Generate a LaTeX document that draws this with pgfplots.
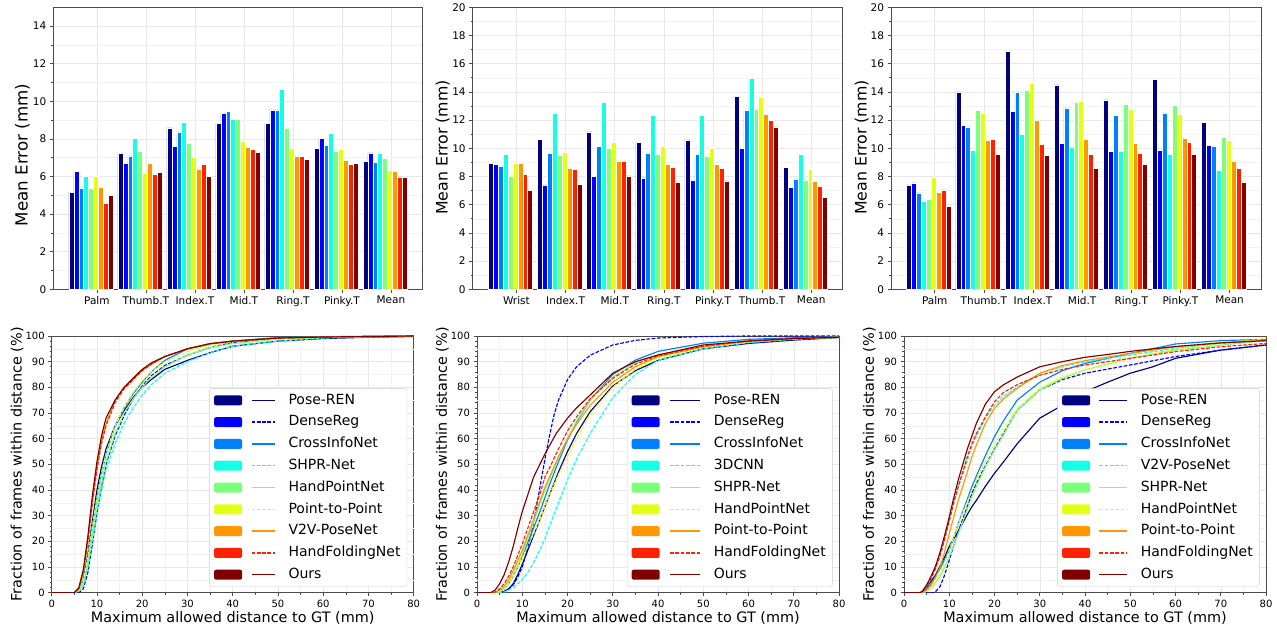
\documentclass[border=0pt]{standalone}
\usepackage{pgfplots}
\usepackage{pgfplotstable}
\usepackage{fontspec}
\setmainfont{DejaVu Sans}
\pgfplotsset{compat=1.18}
\definecolor{c0}{HTML}{000080}
\definecolor{c1}{HTML}{0000FF}
\definecolor{c2}{HTML}{0080FF}
\definecolor{c3}{HTML}{15FFE2}
\definecolor{c4}{HTML}{7CFF7A}
\definecolor{c5}{HTML}{E2FF15}
\definecolor{c6}{HTML}{FF9700}
\definecolor{c7}{HTML}{FF2100}
\definecolor{c8}{HTML}{800000}
\tikzset{dsh/.style={dash pattern=on 3.7pt off 1.6pt}}

\pgfplotstableread{
pos s0 s1 s2 s3 s4 s5 s6 s7 s8
0 5.15 6.28 5.39 6.01 5.36 6.01 5.41 4.57 5.00
1 7.23 6.70 7.10 8.01 7.32 6.19 6.70 6.11 6.23
2 8.59 7.62 8.37 8.87 7.75 7.02 6.39 6.64 6.01
3 8.84 9.37 9.48 9.07 9.03 7.87 7.57 7.45 7.28
4 8.84 9.55 9.55 10.65 8.59 7.50 7.07 7.07 6.93
5 7.50 8.03 7.66 8.30 7.32 7.46 6.84 6.64 6.70
6 6.80 7.26 6.75 7.23 6.96 6.35 6.28 5.96 5.96
}\tabA
\pgfplotstableread{
pos s0 s1 s2 s3 s4 s5 s6 s7 s8
0 8.91 8.84 8.74 9.55 8.00 8.91 8.93 8.16 7.00
1 10.64 7.40 9.62 12.45 9.50 9.74 8.57 8.48 7.45
2 11.17 8.00 10.14 13.26 10.00 10.40 9.07 9.07 8.05
3 10.43 7.90 9.62 12.36 9.55 10.14 8.86 8.64 7.62
4 10.60 7.71 9.57 12.36 9.45 10.00 8.86 8.57 7.69
5 13.67 10.02 12.71 14.95 12.79 13.62 12.43 11.98 11.52
6 8.64 7.24 7.83 9.57 7.76 8.50 7.67 7.33 6.52
}\tabB
\pgfplotstableread{
pos s0 s1 s2 s3 s4 s5 s6 s7 s8
0 7.40 7.55 6.83 6.21 6.40 7.93 6.90 7.05 5.90
1 14.00 11.64 11.52 9.86 12.71 12.52 10.57 10.64 9.57
2 16.88 12.62 14.00 11.00 14.10 14.64 12.00 10.29 9.50
3 14.50 10.36 12.86 10.10 13.26 13.36 10.64 9.55 8.57
4 13.43 9.79 12.36 9.79 13.14 12.74 10.36 9.62 8.86
5 14.90 9.83 12.52 9.55 13.07 12.43 10.71 10.40 9.55
6 11.83 10.21 10.12 8.43 10.79 10.57 9.07 8.60 7.62
}\tabC

\def\lgs{37.4pt}\def\lge{60.7pt}
\pgfplotsset{
  base/.style={scale only axis, axis line style={black!70, line width=0.6pt},
    tick style={black!70, line width=0.6pt}, tick align=outside, tick pos=left,
    major tick length=3.5pt, minor tick length=2pt,
    major grid style={black!9, line width=0.5pt}, minor grid style={black!5, line width=0.5pt},
    /pgf/number format/assume math mode=true, enlargelimits=false},
  bars/.style={base, grid=both, ybar=0pt, bar width=0.1, xmin=-0.77, xmax=6.76, ymin=0,
    xtick={0.12,1.12,2.12,3.12,4.12,5.12,6.12}, minor y tick num=1,
    height=282pt, tick label style={font=\fontsize{10.5}{12}\selectfont}},
  bb/.style={fill=#1, draw=white, line width=0.5pt},
  cdf/.style={base, xmajorgrids=true, xminorgrids=true, ymajorgrids=true, yminorgrids=false,
    xmin=0, xmax=80, ymin=0, ymax=100, xtick={0,10,...,80},
    ytick={0,10,...,100}, minor x tick num=1, minor y tick num=4,
    extra y ticks={5,15,25,35,45,55,65,75,85,95}, extra y tick labels={},
    extra y tick style={major tick length=0pt, major grid style={black!5, line width=0.5pt}},
    width=362pt, height=256.7pt, tick label style={font=\fontsize{10}{12}\selectfont},
    label style={font=\fontsize{14.4}{16}\selectfont},
    xlabel={Maximum allowed distance to GT (mm)},
    ylabel={Fraction of frames within distance (\%)},
    xlabel style={at={(axis description cs:0.5,-0.0993)}, anchor=center},
    ylabel style={at={(axis description cs:-0.0955,0.5)}, anchor=center},
    legend cell align=left,
    legend style={at={(1,0)}, anchor=south east, xshift=-6.5pt, yshift=6pt,
      draw=black!20, rounded corners=2pt, fill=white,
      font=\fontsize{14}{16}\selectfont, inner xsep=4.5pt, inner ysep=5pt,
      row sep=8.3pt, column sep=11pt,
      nodes={inner ysep=0pt, inner xsep=2pt, text height=10.5pt, text depth=3pt}}},
  ln/.style={color=#1, line width=1.15pt},
  ld/.style={color=#1, line width=1.15pt, dash pattern=on 3.7pt off 1.6pt},
  li/.style 2 args={legend image code/.code={
     \path[draw=none, fill=none] (0pt,-5pt) rectangle (\lge,5pt);
     \fill[fill=#1, draw=none] (0pt,-5pt) rectangle (28pt,5pt);
     \draw[draw=#1, line width=1.4pt, #2] (\lgs,0pt) -- (\lge,0pt);}},
}

\begin{document}
\begin{tikzpicture}
\useasboundingbox (0pt,0pt) rectangle (1277pt,628pt);

% ---------- top left ----------
\begin{axis}[bars, at={(53.3pt,338.7pt)}, anchor=south west, width=369pt, ymax=15,
  ytick={0,2,...,14},
  xticklabels={Palm,Thumb.T,Index.T,Mid.T,Ring.T,Pinky.T,Mean},
  ylabel={Mean Error (mm)}, ylabel style={font=\fontsize{16.7}{18}\selectfont, at={(axis description cs:-0.0835,0.476)}, anchor=center}]
\addplot[bb=c0] table[x=pos,y=s0]{\tabA};
\addplot[bb=c1] table[x=pos,y=s1]{\tabA};
\addplot[bb=c2] table[x=pos,y=s2]{\tabA};
\addplot[bb=c3] table[x=pos,y=s3]{\tabA};
\addplot[bb=c4] table[x=pos,y=s4]{\tabA};
\addplot[bb=c5] table[x=pos,y=s5]{\tabA};
\addplot[bb=c6] table[x=pos,y=s6]{\tabA};
\addplot[bb=c7] table[x=pos,y=s7]{\tabA};
\addplot[bb=c8] table[x=pos,y=s8]{\tabA};
\end{axis}

% ---------- top middle ----------
\begin{axis}[bars, at={(472.7pt,338.7pt)}, anchor=south west, width=370pt, ymax=20,
  ytick={0,2,...,20},
  xticklabels={Wrist,Index.T,Mid.T,Ring.T,Pinky.T,Thumb.T,Mean},
  ylabel={Mean Error (mm)}, ylabel style={font=\fontsize{15.8}{18}\selectfont, at={(axis description cs:-0.0811,0.503)}, anchor=center}]
\addplot[bb=c0] table[x=pos,y=s0]{\tabB};
\addplot[bb=c1] table[x=pos,y=s1]{\tabB};
\addplot[bb=c2] table[x=pos,y=s2]{\tabB};
\addplot[bb=c3] table[x=pos,y=s3]{\tabB};
\addplot[bb=c4] table[x=pos,y=s4]{\tabB};
\addplot[bb=c5] table[x=pos,y=s5]{\tabB};
\addplot[bb=c6] table[x=pos,y=s6]{\tabB};
\addplot[bb=c7] table[x=pos,y=s7]{\tabB};
\addplot[bb=c8] table[x=pos,y=s8]{\tabB};
\end{axis}

% ---------- top right ----------
\begin{axis}[bars, at={(891pt,338.7pt)}, anchor=south west, width=370pt, ymax=20,
  ytick={0,2,...,20},
  xticklabels={Palm,Thumb.T,Index.T,Mid.T,Ring.T,Pinky.T,Mean},
  ylabel={Mean Error (mm)}, ylabel style={font=\fontsize{15.8}{18}\selectfont, at={(axis description cs:-0.0792,0.503)}, anchor=center}]
\addplot[bb=c0] table[x=pos,y=s0]{\tabC};
\addplot[bb=c1] table[x=pos,y=s1]{\tabC};
\addplot[bb=c2] table[x=pos,y=s2]{\tabC};
\addplot[bb=c3] table[x=pos,y=s3]{\tabC};
\addplot[bb=c4] table[x=pos,y=s4]{\tabC};
\addplot[bb=c5] table[x=pos,y=s5]{\tabC};
\addplot[bb=c6] table[x=pos,y=s6]{\tabC};
\addplot[bb=c7] table[x=pos,y=s7]{\tabC};
\addplot[bb=c8] table[x=pos,y=s8]{\tabC};
\end{axis}

% ---------- bottom left ----------
\def\lgs{37.4pt}\def\lge{60.7pt}
\begin{axis}[cdf, at={(51.7pt,35.3pt)}, anchor=south west]
\addplot[ln=c0, li={c0}{solid}] coordinates {(0,0)(5,0)(6,1)(7,5)(8,15)(9,28)(10,40)(11,49)(12,56)(14,65)(16,71)(18,76)(20,80)(22,83)(25,87)(30,90.5)(35,93.5)(40,96)(50,98)(60,99)(70,99.5)(80,99.8)};
\addlegendentry{Pose-REN}
\addplot[ld=c1, li={c1}{dsh}] coordinates {(0,0)(6,0)(7,1.5)(8,8)(9,19)(10,31)(11,41)(12,50)(14,61)(16,69)(18,75.5)(20,80.5)(22,84.5)(25,88.5)(30,92.5)(35,95.5)(40,97.5)(50,99)(60,99.6)(70,99.8)(80,100)};
\addlegendentry{DenseReg}
\addplot[ln=c2, li={c2}{solid}] coordinates {(0,0)(5,0)(6,1)(7,5)(8,14)(9,26)(10,37)(11,46)(12,54)(14,65)(16,72)(18,77.5)(20,82)(22,86)(25,90.5)(30,95)(35,97)(40,98)(50,99.4)(60,99.7)(70,99.9)(80,100)};
\addlegendentry{CrossInfoNet}
\addplot[ld=c3, li={c3}{dsh}] coordinates {(0,0)(5,0)(6,0.5)(7,3)(8,10)(9,20)(10,31)(11,40)(12,48)(14,58)(16,66)(18,72)(20,77)(22,81)(25,85.5)(30,90)(35,93.5)(40,96)(50,98)(60,99.2)(70,99.6)(80,99.9)};
\addlegendentry{SHPR-Net}
\addplot[ln=c4, li={c4}{solid}] coordinates {(0,0)(5,0)(6,1)(7,4)(8,12)(9,23)(10,34)(11,43)(12,51)(14,62)(16,70)(18,75.5)(20,80)(22,84)(25,88)(30,92.5)(35,95.5)(40,97)(50,98.8)(60,99.4)(70,99.7)(80,100)};
\addlegendentry{HandPointNet}
\addplot[ld=c5, li={c5}{dsh}] coordinates {(0,0)(5,0)(6,1)(7,5)(8,14)(9,26)(10,37)(11,46)(12,54)(14,65)(16,72)(18,78)(20,82.5)(22,86)(25,90)(30,94)(35,96.5)(40,97.8)(50,99)(60,99.5)(70,99.8)(80,100)};
\addlegendentry{Point-to-Point}
\addplot[ln=c6, li={c6}{solid}] coordinates {(0,0)(5,0)(6,1.5)(7,8)(8,21)(9,36)(10,49)(11,59)(12,66)(14,75)(16,80)(18,83.5)(20,86.5)(22,89)(25,92)(30,95)(35,97)(40,98)(50,99.2)(60,99.6)(70,99.8)(80,100)};
\addlegendentry{V2V-PoseNet}
\addplot[ld=c7, li={c7}{dsh}] coordinates {(0,0)(5,0)(6,1.5)(7,8)(8,20)(9,35)(10,48)(11,58)(12,65)(14,74)(16,79.5)(18,83)(20,86.5)(22,89)(25,92)(30,95)(35,97)(40,98)(50,99.2)(60,99.6)(70,99.8)(80,100)};
\addlegendentry{HandFoldingNet}
\addplot[ln=c8, li={c8}{solid}] coordinates {(0,0)(5,0)(6,2)(7,9)(8,22)(9,38)(10,51)(11,61)(12,68)(14,75)(16,80)(18,83.5)(20,87)(22,89.5)(25,92)(30,95)(35,97)(40,98)(50,99.2)(60,99.6)(70,99.8)(80,100)};
\addlegendentry{Ours}
\end{axis}

% ---------- bottom middle ----------
\def\lgs{38.4pt}\def\lge{68.4pt}
\begin{axis}[cdf, at={(477pt,35.3pt)}, anchor=south west]
\addplot[ln=c0, li={c0}{solid}] coordinates {(0,0)(5,0)(6,0.5)(7,1.5)(8,3.5)(9,7)(10,11)(12,20)(14,29)(15,33.5)(16,38)(18,47)(20,55)(22,62)(25,70.5)(30,80.5)(35,86.5)(40,90.5)(50,95)(60,97.1)(70,98.4)(80,99.4)};
\addlegendentry{Pose-REN}
\addplot[ld=c1, li={c1}{dsh}] coordinates {(0,0)(5,0)(6,0.5)(7,1.5)(8,3)(9,6)(10,10)(11,16)(12,23)(13,32)(14,42)(15,52)(16,61)(17,69)(18,75)(20,83)(22,88)(25,92.5)(30,96.5)(35,98.3)(40,99.2)(50,99.8)(60,100)(80,100)};
\addlegendentry{DenseReg}
\addplot[ln=c2, li={c2}{solid}] coordinates {(0,0)(4,0)(5,0.5)(6,1.5)(7,3.5)(8,6.5)(9,10)(10,14)(12,23)(14,32)(15,37)(16,42)(18,51)(20,59.5)(22,66.5)(25,75)(30,85)(35,90.6)(40,94)(50,97.2)(60,98.7)(70,99.3)(80,99.7)};
\addlegendentry{CrossInfoNet}
\addplot[ld=c3, li={c3}{dsh}] coordinates {(0,0)(5,0)(6,0.3)(7,1)(8,2)(9,3.5)(10,5)(12,10)(14,17)(15,21)(16,26)(18,35)(20,44)(22,52)(25,62)(30,76)(35,85)(40,90.5)(50,95)(60,97.4)(70,98.7)(80,99.5)};
\addlegendentry{3DCNN}
\addplot[ln=c4, li={c4}{solid}] coordinates {(0,0)(4,0)(5,0.5)(6,1.5)(7,4)(8,7)(9,11)(10,15)(12,25)(14,35)(15,40)(16,44)(18,52.5)(20,60)(22,67)(25,75)(30,84)(35,89.5)(40,92.6)(50,96)(60,98)(70,99)(80,99.5)};
\addlegendentry{SHPR-Net}
\addplot[ld=c5, li={c5}{dsh}] coordinates {(0,0)(4,0)(5,0.5)(6,1.5)(7,3.5)(8,6.5)(9,10)(10,13.5)(12,21)(14,29)(15,33.5)(16,38)(18,46)(20,53)(22,60)(25,69.5)(30,80)(35,87)(40,91.3)(50,95.6)(60,97.8)(70,98.9)(80,99.5)};
\addlegendentry{HandPointNet}
\addplot[ln=c6, li={c6}{solid}] coordinates {(0,0)(4,0)(5,1)(6,2.5)(7,5)(8,8.5)(9,12.5)(10,16.5)(12,26)(14,36)(15,41)(16,45)(18,53)(20,60)(22,65.5)(25,73)(30,82)(35,88)(40,92)(50,95.8)(60,97.9)(70,98.9)(80,99.5)};
\addlegendentry{Point-to-Point}
\addplot[ld=c7, li={c7}{dsh}] coordinates {(0,0)(3.5,0)(4,0.3)(5,1.5)(6,3.5)(7,6.5)(8,10)(9,14.5)(10,19)(12,29)(14,39)(15,45)(16,48.5)(18,56)(20,63)(22,68.5)(25,75.5)(30,83.5)(35,89)(40,92.3)(50,96)(60,98.2)(70,99.1)(80,99.6)};
\addlegendentry{HandFoldingNet}
\addplot[ln=c8, li={c8}{solid}] coordinates {(0,0)(3,0)(4,1)(5,3.5)(6,7)(7,12)(8,18)(9,25)(10,31.6)(12.5,45)(15,54)(17.5,62)(20,68)(22,72)(25,77)(30,85.5)(35,90)(40,92.6)(50,96.5)(60,98)(70,99)(80,99.5)};
\addlegendentry{Ours}
\end{axis}

% ---------- bottom right ----------
\def\lgs{37.3pt}\def\lge{65pt}
\begin{axis}[cdf, at={(904pt,35.3pt)}, anchor=south west]
\addplot[ln=c0, li={c0}{solid}] coordinates {(0,0)(4,0)(5,2.3)(6,4.5)(7,7)(8,10.5)(9,14)(10,18)(11,21)(12,24)(14,30.5)(15,33.5)(16,36)(18,41.5)(20,46.5)(22,51)(25,58)(28,64)(30,68)(35,73)(40,78.3)(45,82)(50,85.5)(55,88)(60,91.3)(70,94.5)(80,96.5)};
\addlegendentry{Pose-REN}
\addplot[ld=c1, li={c1}{dsh}] coordinates {(0,0)(6.5,0)(7,0.5)(8,2.5)(9,7)(10,12.7)(11,18.5)(12,24)(14,33.5)(15,38.7)(16,42.5)(18,49.5)(20,56)(22,62)(25,71)(30,79)(35,83)(40,85.5)(50,88.7)(60,92)(70,94.5)(80,96.5)};
\addlegendentry{DenseReg}
\addplot[ln=c2, li={c2}{solid}] coordinates {(0,0)(4,0)(5,1.5)(6,3.5)(7,6.5)(8,9.5)(9,13)(10,16.6)(11,21.5)(12,27)(14,36.5)(15,41.3)(16,45.5)(18,53.5)(20,60.8)(22,67)(25,75)(30,82)(35,86.5)(40,89.3)(50,93.2)(60,96.9)(70,98.2)(80,98.7)};
\addlegendentry{CrossInfoNet}
\addplot[ld=c3, li={c3}{dsh}] coordinates {(0,0)(3.5,0)(4,0.5)(5,2.5)(6,6)(7,10)(8,15)(9,21)(10,28)(11,35)(12,41)(14,51.5)(15,57)(16,61)(18,68)(20,73)(22,76.5)(25,80)(30,85.5)(35,88)(40,90)(50,92.6)(60,95.2)(70,97.1)(80,98)};
\addlegendentry{V2V-PoseNet}
\addplot[ln=c4, li={c4}{solid}] coordinates {(0,0)(4,0)(5,0.5)(6,2)(7,4)(8,6.5)(9,10)(10,14)(11,18.5)(12,23)(14,32.5)(15,37.4)(16,41.5)(18,49)(20,55.6)(22,61.5)(25,71)(30,79)(35,83.5)(40,86.8)(50,91.3)(60,94.5)(70,96.4)(80,98.2)};
\addlegendentry{SHPR-Net}
\addplot[ld=c5, li={c5}{dsh}] coordinates {(0,0)(4,0)(5,0.5)(6,2)(7,4.5)(8,7.5)(9,12)(10,16.6)(11,21.5)(12,27)(14,35.5)(15,40)(16,44)(18,51.5)(20,58)(22,63.5)(25,71.8)(30,79.6)(35,84)(40,86.8)(50,91.3)(60,94.8)(70,97.1)(80,99)};
\addlegendentry{HandPointNet}
\addplot[ln=c6, li={c6}{solid}] coordinates {(0,0)(4,0)(5,1)(6,3)(7,6)(8,10)(9,16)(10,23)(11,29.5)(12,36)(14,47)(15,53)(16,57.5)(18,66)(20,71.8)(22,75.5)(25,79.6)(30,85.5)(35,88.5)(40,90.4)(50,93.2)(60,95.8)(70,97.4)(80,98.4)};
\addlegendentry{Point-to-Point}
\addplot[ld=c7, li={c7}{dsh}] coordinates {(0,0)(3.5,0)(4,0.3)(5,2)(6,5.5)(7,9.5)(8,14.5)(9,21)(10,28)(11,35)(12,41.5)(14,53)(15,58)(16,62)(18,68.5)(20,74.4)(22,78)(25,81)(30,84.7)(35,87)(40,88.7)(50,91.3)(60,93.9)(70,95.8)(80,97.1)};
\addlegendentry{HandFoldingNet}
\addplot[ln=c8, li={c8}{solid}] coordinates {(0,0)(3.5,0)(4,0.5)(5,3)(6,6.5)(7,10.5)(8,16)(9,22.5)(10,29.5)(11,37)(12,44)(14,56)(15,61)(16,66)(18,73.5)(20,78.3)(22,81)(25,84)(30,88)(35,90)(40,91.7)(45,92.8)(50,94)(55,95)(60,95.9)(70,97.3)(80,98.2)};
\addlegendentry{Ours}
\end{axis}
\end{tikzpicture}
\end{document}
